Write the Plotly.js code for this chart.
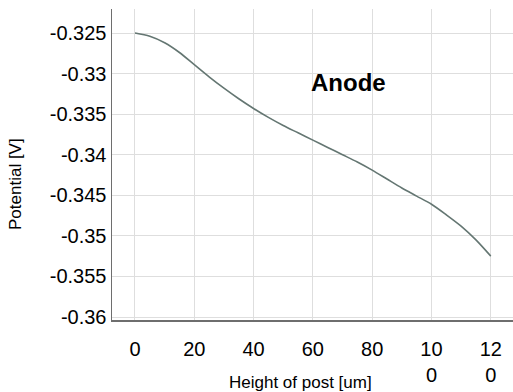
<!DOCTYPE html>
<html>
<head>
<meta charset="utf-8">
<script src="https://cdn.plot.ly/plotly-3.0.1.min.js"></script>
<style>html,body{margin:0;padding:0;background:#fff;}#chart{width:513px;height:392px;}</style>
</head>
<body>
<div id="chart"></div>
<script>
const heights = [0,5,10,15,20,25,30,35,40,45,50,55,60,65,70,75,80,85,90,95,100,105,110,115,120];
const potentials = [-0.3250,-0.3254,-0.3262,-0.3274,-0.3289,-0.3304,-0.3318,-0.3331,-0.3343,-0.3354,-0.3364,-0.3373,-0.3382,-0.3391,-0.3400,-0.3409,-0.3419,-0.3430,-0.3441,-0.3451,-0.3461,-0.3474,-0.3488,-0.3505,-0.3525];
const xTickVals = [0,20,40,60,80,100,120];
const xTickText = ['0','20','40','60','80','10<br>0','12<br>0'];
const yTickVals = [-0.325,-0.33,-0.335,-0.34,-0.345,-0.35,-0.355,-0.36];
const yTickText = ['-0.325','-0.33','-0.335','-0.34','-0.345','-0.35','-0.355','-0.36'];

const font = 'Liberation Sans, Arial, Helvetica, sans-serif';
const trace = {
  x: heights, y: potentials, type: 'scatter', mode: 'lines',
  line: {color: '#647672', width: 1.6, shape: 'spline', smoothing: 0.8},
  hoverinfo: 'none'
};
const pw = 513 - 112 - 0, ph = 392 - 9 - 72;
const px = v => (v - 112) / pw;
const py = v => (320 - v) / ph;
const layout = {
  width: 513, height: 392,
  margin: {l: 112, r: 0, t: 9, b: 72},
  paper_bgcolor: '#ffffff', plot_bgcolor: '#ffffff',
  showlegend: false,
  font: {family: font, color: '#000'},
  xaxis: {
    range: [-7.75, 127.5], tickvals: xTickVals, ticktext: xTickText,
    showgrid: true, gridcolor: '#dedede', gridwidth: 1,
    zeroline: false, showline: true, linecolor: '#6e6e6e', linewidth: 1.5,
    ticks: '', tickfont: {family: font, size: 20, color: '#000'},
    ticklabelstandoff: 10
  },
  yaxis: {
    range: [-0.36037, -0.32204], tickvals: yTickVals, ticktext: yTickText,
    showgrid: true, gridcolor: '#dedede', gridwidth: 1,
    zeroline: false, showline: true, linecolor: '#6e6e6e', linewidth: 1.5,
    ticks: '', tickfont: {family: font, size: 20, color: '#000'},
    ticklabelstandoff: 0
  },
  annotations: [
    {text: 'Anode', x: 72, y: -0.33105, xref: 'x', yref: 'y', showarrow: false,
     xanchor: 'center', yanchor: 'middle',
     font: {family: font, size: 24, color: '#000', weight: 'bold'}},
    {text: 'Height of post [um]', x: px(300), y: py(382), xref: 'paper', yref: 'paper', showarrow: false,
     xanchor: 'center', yanchor: 'middle',
     font: {family: font, size: 17, color: '#000'}},
    {text: 'Potential [V]', textangle: -90, x: px(16), y: py(184), xref: 'paper', yref: 'paper', showarrow: false,
     xanchor: 'center', yanchor: 'middle',
     font: {family: font, size: 17, color: '#000'}}
  ]
};
Plotly.newPlot('chart', [trace], layout, {displayModeBar: false, staticPlot: true});
</script>
</body>
</html>
